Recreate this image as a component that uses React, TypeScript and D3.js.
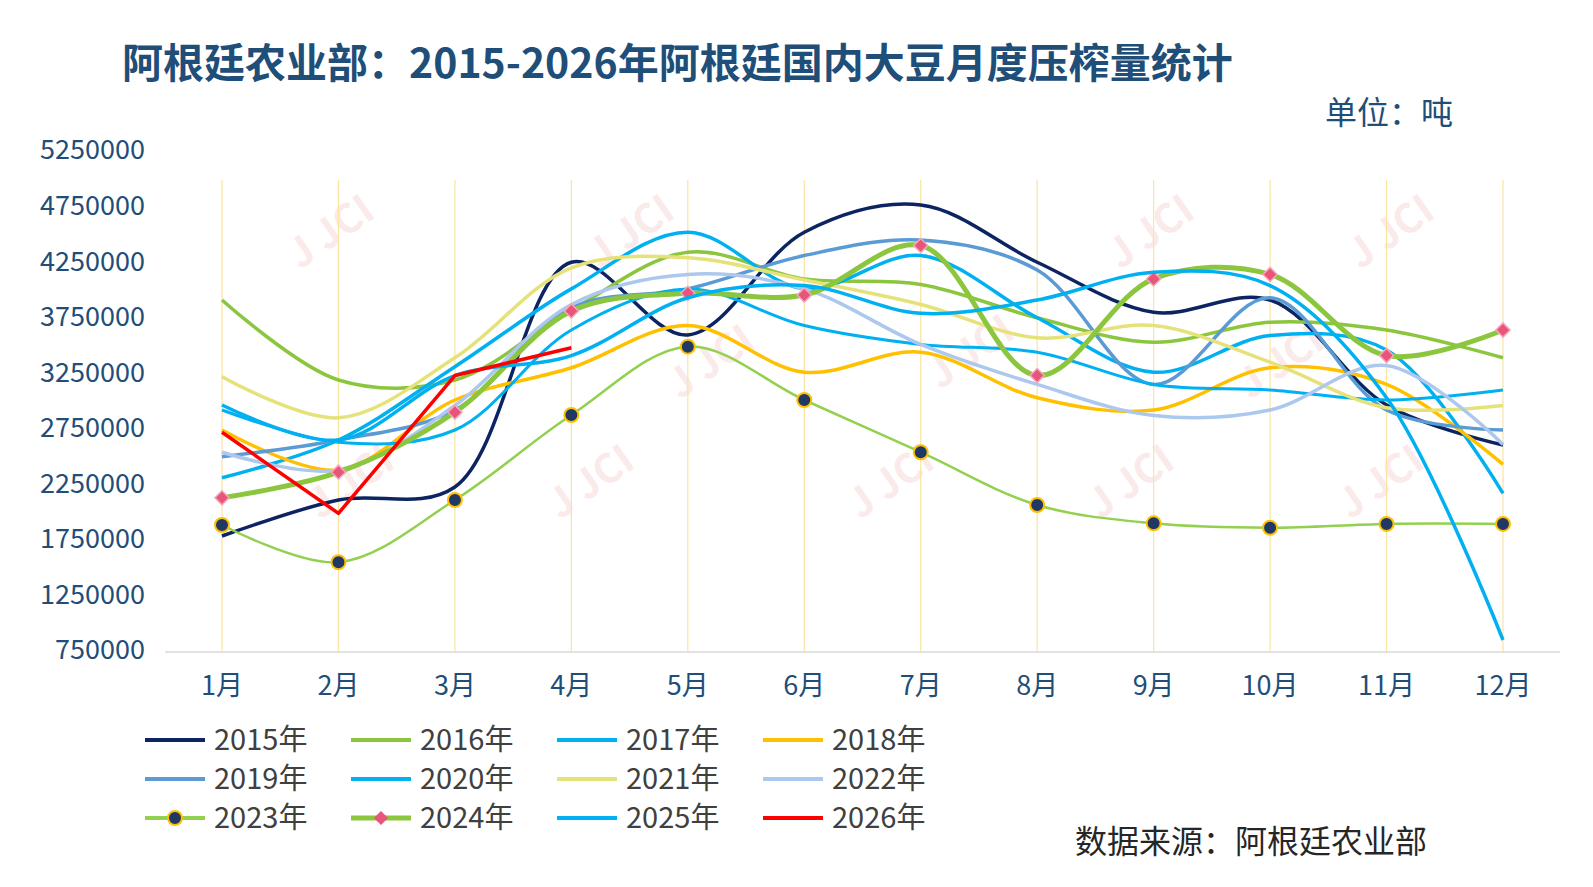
import React from 'react';
import * as d3 from 'd3';

const months = ['1月', '2月', '3月', '4月', '5月', '6月', '7月', '8月', '9月', '10月', '11月', '12月'];
const yTicks = [750000, 1250000, 1750000, 2250000, 2750000, 3250000, 3750000, 4250000, 4750000, 5250000];

const s2015 = [1776000, 2100000, 2217000, 4240000, 3585000, 4510000, 4755000, 4240000, 3790000, 3900000, 2955000, 2595000];
const s2016 = [3900000, 3180000, 3180000, 3810000, 4330000, 4090000, 4040000, 3740000, 3520000, 3700000, 3630000, 3380000];
const s2017 = [2300000, 2640000, 3300000, 4000000, 4510000, 4000000, 4300000, 3740000, 3250000, 3580000, 3450000, 2160000];
const s2018 = [2730000, 2370000, 3000000, 3290000, 3670000, 3250000, 3430000, 3020000, 2910000, 3290000, 3140000, 2420000];
const s2019 = [2490000, 2640000, 2910000, 3830000, 4000000, 4300000, 4440000, 4170000, 3140000, 3920000, 2910000, 2730000];
const s2020 = [2910000, 2620000, 2730000, 3630000, 4000000, 3670000, 3500000, 3430000, 3140000, 3090000, 3000000, 3090000];
const s2021 = [3210000, 2840000, 3380000, 4190000, 4280000, 4080000, 3860000, 3560000, 3670000, 3340000, 2930000, 2950000];
const s2022 = [2530000, 2370000, 2950000, 3860000, 4130000, 4000000, 3500000, 3140000, 2860000, 2910000, 3310000, 2600000];
const s2023 = [1875000, 1540000, 2100000, 2865000, 3480000, 3000000, 2530000, 2055000, 1890000, 1850000, 1885000, 1885000];
const s2024 = [2120000, 2350000, 2890000, 3800000, 3960000, 3945000, 4390000, 3220000, 4090000, 4130000, 3400000, 3630000];
const s2025 = [2955000, 2640000, 3220000, 3400000, 3920000, 4030000, 3780000, 3900000, 4150000, 4030000, 3020000, 840000];
const s2026 = [2710000, 1980000, 3220000, 3470000];

type Series = { name: string; data: number[]; color: string; width: number; marker?: 'circle' | 'diamond'; straight?: boolean };

const series: Series[] = [
  { name: '2015年', data: s2015, color: '#0c2461', width: 3.5 },
  { name: '2016年', data: s2016, color: '#8cc63f', width: 3.5 },
  { name: '2017年', data: s2017, color: '#00b0f0', width: 3.5 },
  { name: '2018年', data: s2018, color: '#ffc000', width: 3.5 },
  { name: '2019年', data: s2019, color: '#5b9bd5', width: 3.5 },
  { name: '2020年', data: s2020, color: '#00b0f0', width: 3 },
  { name: '2021年', data: s2021, color: '#e6e27a', width: 3.5 },
  { name: '2022年', data: s2022, color: '#adc8ee', width: 3.5 },
  { name: '2023年', data: s2023, color: '#92d050', width: 2.5, marker: 'circle' },
  { name: '2024年', data: s2024, color: '#8cc63f', width: 5, marker: 'diamond' },
  { name: '2025年', data: s2025, color: '#00b0f0', width: 3.5 },
  { name: '2026年', data: s2026, color: '#ff0000', width: 3.5, straight: true },
];

const W = 1593, H = 887;
const x = d3.scalePoint<string>().domain(months).range([222, 1503]);
const y = d3.scaleLinear().domain([750000, 5250000]).range([650, 150]);

const marks = [[300, 270], [560, 520], [680, 400], [860, 520], [940, 390], [1120, 270], [1360, 270], [1100, 520], [1350, 520], [1250, 400], [600, 270], [320, 520]];

export default function App() {
  const font = '"Noto Sans CJK SC", "Noto Sans", sans-serif';
  return (
    <svg width={W} height={H} style={{ display: 'block', position: 'absolute', left: 0, top: 0, background: '#fff' }} fontFamily={font}>
      <rect width={W} height={H} fill="#fff" />
      <text x={122} y={78} fontSize={41} fontWeight="bold" fill="#1f4e79">阿根廷农业部：2015-2026年阿根廷国内大豆月度压榨量统计</text>
      <text x={1325} y={124} fontSize={32} fill="#1f4e79">单位：吨</text>
      {marks.map(([mx, my], i) => (
        <text key={i} x={mx} y={my} fontSize={40} fontWeight="bold" fill="#f4c6c6" opacity={0.35}
          transform={`rotate(-35 ${mx} ${my})`}>J JCI</text>
      ))}
      {months.map(m => (
        <line key={m} x1={x(m)} x2={x(m)} y1={y(5250000) + 30} y2={652} stroke="#fbe3a0" strokeWidth={1.2} />
      ))}
      <line x1={165} x2={1560} y1={652} y2={652} stroke="#d9d9d9" strokeWidth={1.5} />
      {yTicks.map(t => (
        <text key={t} x={145} y={y(t)} dy="0.35em" textAnchor="end" fontSize={27} fill="#1f4e79">{t}</text>
      ))}
      {months.map(m => (
        <text key={m} x={x(m)} y={695} textAnchor="middle" fontSize={27} fill="#1f4e79">{m}</text>
      ))}
      {series.map(s => {
        const line = d3.line<number>()
          .x((_, i) => x(months[i])!)
          .y(d => y(d))
          .curve(s.straight ? d3.curveLinear : d3.curveCatmullRom.alpha(0.5));
        return (
          <g key={s.name}>
            <path d={line(s.data) || ''} fill="none" stroke={s.color} strokeWidth={s.width} strokeLinejoin="round" />
            {s.data.map((d, i) => s.marker === 'circle' ? (
              <circle key={i} cx={x(months[i])} cy={y(d)} r={7} fill="#1f3864" stroke="#ffc000" strokeWidth={2} />
            ) : s.marker === 'diamond' ? (
              <rect key={i} x={x(months[i])! - 5} y={y(d) - 5} width={10} height={10} fill="#e8547a" stroke="#f4a7b9"
                strokeWidth={1.5} transform={`rotate(45 ${x(months[i])} ${y(d)})`} />
            ) : null)}
          </g>
        );
      })}
      {series.map((s, i) => {
        const lx = 145 + (i % 4) * 206;
        const ly = 740 + Math.floor(i / 4) * 39;
        return (
          <g key={s.name}>
            <line x1={lx} x2={lx + 60} y1={ly} y2={ly} stroke={s.color} strokeWidth={Math.max(s.width, 4)} />
            {s.marker === 'circle' && <circle cx={lx + 30} cy={ly} r={7} fill="#1f3864" stroke="#ffc000" strokeWidth={2} />}
            {s.marker === 'diamond' && <rect x={lx + 25} y={ly - 5} width={10} height={10} fill="#e8547a"
              transform={`rotate(45 ${lx + 30} ${ly})`} />}
            <text x={lx + 69} y={ly} dy="0.36em" fontSize={29} fill="#404040">{s.name}</text>
          </g>
        );
      })}
      <text x={1075} y={853} fontSize={32} fill="#262626">数据来源：阿根廷农业部</text>
    </svg>
  );
}
